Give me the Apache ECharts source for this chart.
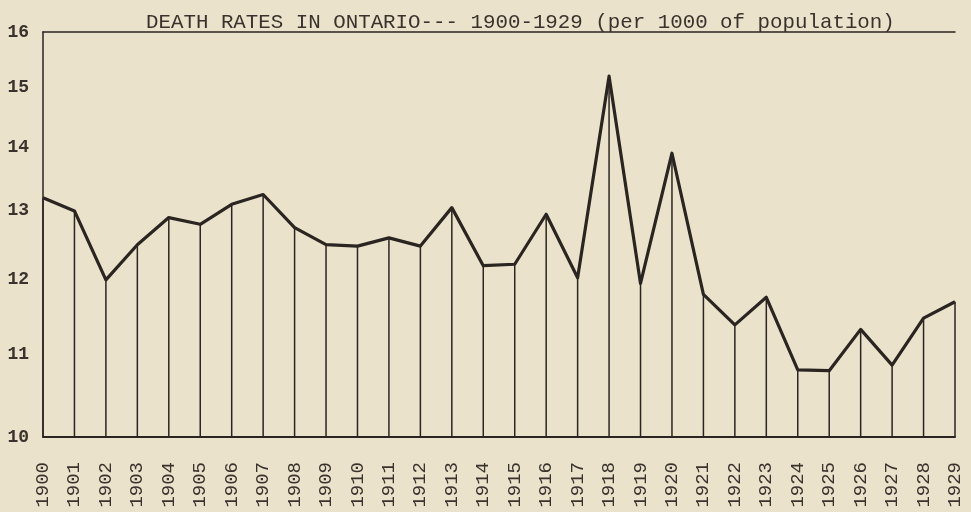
<!DOCTYPE html>
<html>
<head>
<meta charset="utf-8">
<script src="https://cdn.jsdelivr.net/npm/echarts@6/dist/echarts.min.js"></script>
<style>
  html, body { margin: 0; padding: 0; background: #ebe2cb; }
  #chart { width: 971px; height: 512px; }
</style>
</head>
<body>
<div id="chart"></div>
<script>
// years on the x axis
var years = ['1900', '1901', '1902', '1903', '1904', '1905', '1906', '1907', '1908', '1909',
    '1910', '1911', '1912', '1913', '1914', '1915', '1916', '1917', '1918', '1919',
    '1920', '1921', '1922', '1923', '1924', '1925', '1926', '1927', '1928', '1929'];

// deaths per 1000 of population (ratio scale)
var deathRates = [13.2, 13.0, 12.0, 12.5, 12.9, 12.8, 13.1, 13.25, 12.75, 12.5,
    12.48, 12.6, 12.48, 13.05, 12.2, 12.22, 12.95, 12.03, 15.2, 11.95,
    13.9, 11.8, 11.39, 11.76, 10.81, 10.8, 11.33, 10.87, 11.48, 11.7];

// labels down the left side
var yTicks = [10, 11, 12, 13, 14, 15, 16];

var titleText = 'DEATH RATES IN ONTARIO--- 1900-1929 (per 1000 of population)';

// the chart is drawn on a ratio (logarithmic) scale
function lg(v) { return Math.log10(v); }

var ink = '#2b2521';
var typeFont = '"Liberation Mono", "DejaVu Sans Mono", monospace';

var dom = document.getElementById('chart');
var myChart = echarts.init(dom);

var logRates = deathRates.map(lg);
var yMin = lg(yTicks[0]);
var yMax = lg(yTicks[yTicks.length - 1]);

var option = {
    backgroundColor: '#ebe2cb',
    animation: false,
    title: {
        text: titleText,
        left: 141,
        top: 7,
        textStyle: {
            fontFamily: typeFont,
            fontSize: 20.8,
            fontWeight: 'normal',
            color: '#3a332d'
        }
    },
    grid: {
        left: 43,
        right: 16,
        top: 32,
        bottom: 75
    },
    xAxis: [{
        type: 'category',
        data: years,
        boundaryGap: false,
        axisLine: { lineStyle: { color: ink, width: 2 } },
        axisTick: { show: false },
        axisLabel: {
            rotate: 90,
            margin: 25,
            interval: 0,
            fontFamily: typeFont,
            fontSize: 19,
            color: '#3a332d'
        },
        splitLine: { show: false }
    }, {
        // the ruled line across the top
        type: 'category',
        data: years,
        position: 'top',
        boundaryGap: false,
        axisLine: { lineStyle: { color: ink, width: 1.5 } },
        axisTick: { show: false },
        axisLabel: { show: false },
        splitLine: { show: false }
    }],
    yAxis: {
        type: 'value',
        min: yMin,
        max: yMax,
        axisLine: { show: true, lineStyle: { color: ink, width: 1.5 } },
        axisTick: { show: false },
        splitLine: { show: false },
        axisLabel: {
            customValues: yTicks.map(lg),
            margin: 14,
            fontFamily: typeFont,
            fontSize: 18,
            fontWeight: 'bold',
            color: '#3a332d',
            formatter: function (v) {
                return String(Math.round(Math.pow(10, v)));
            }
        }
    },
    series: [{
        // thin drop lines from each point down to the base
        type: 'custom',
        xAxisIndex: 0,
        data: logRates.map(function (v, i) { return [i, v]; }),
        renderItem: function (params, api) {
            var top = api.coord([api.value(0), api.value(1)]);
            var base = api.coord([api.value(0), yMin]);
            return {
                type: 'line',
                shape: { x1: top[0], y1: top[1], x2: base[0], y2: base[1] },
                style: { stroke: ink, lineWidth: 1.5 }
            };
        },
        z: 2
    }, {
        type: 'line',
        xAxisIndex: 0,
        data: logRates,
        showSymbol: false,
        symbol: 'none',
        lineStyle: { color: ink, width: 3.2, join: 'round' },
        z: 3
    }]
};

if (option && typeof option === "object") {
    myChart.setOption(option, true);
}
</script>
</body>
</html>
